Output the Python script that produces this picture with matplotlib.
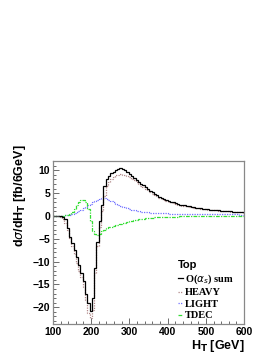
import matplotlib
matplotlib.use('Agg')
import matplotlib.pyplot as plt
import numpy as np
from matplotlib.ticker import MultipleLocator
from matplotlib.lines import Line2D

# -------------------------------
# Data: 6 GeV bins from 100 GeV
# -------------------------------
edges = np.arange(100, 610, 6)

sum_vals = [
    0, 0, 0, -0.05, -0.2, -0.6, -2.7, -4.6, -6.0, -7.5, -9.0, -10.8,
    -12.5, -14.2, -17.0, -19.0, -20.8, -18.0, -11.5, -5.8, -1.0, 2.3, 6.5, 8.0,
    8.7, 9.3, 9.7, 10.1, 10.35, 10.45, 10.3, 10.0, 9.6, 9.2, 8.8, 8.4,
    7.9, 7.5, 7.1, 6.7, 6.3, 5.9, 5.5, 5.15, 4.8, 4.5, 4.2, 3.95,
    3.7, 3.5, 3.3, 3.1, 2.95, 2.8, 2.65, 2.5, 2.4, 2.3, 2.2, 2.1,
    2.0, 1.9, 1.82, 1.74, 1.67, 1.6, 1.53, 1.47, 1.41, 1.35, 1.3, 1.25,
    1.2, 1.15, 1.1, 1.06, 1.02, 0.98, 0.94, 0.9, 0.87, 0.84, 0.81, 0.78,
]

heavy_vals = [
    0, 0, -0.05, -0.2, -0.6, -1.5, -3.1, -4.8, -6.6, -8.3, -10.3, -12.0,
    -13.3, -15.5, -18.5, -21.2, -22.4, -20.6, -12.5, -6.5, -2.5, 1.0, 4.3, 6.5,
    7.5, 8.2, 8.6, 8.9, 9.05, 9.1, 9.05, 8.9, 8.7, 8.45, 8.15, 7.8,
    7.4, 7.0, 6.65, 6.3, 5.95, 5.6, 5.25, 4.9, 4.6, 4.3, 4.0, 3.75,
    3.5, 3.3, 3.1, 2.95, 2.8, 2.65, 2.5, 2.38, 2.27, 2.17, 2.07, 1.98,
    1.9, 1.82, 1.74, 1.67, 1.6, 1.53, 1.47, 1.41, 1.35, 1.3, 1.25, 1.2,
    1.15, 1.1, 1.06, 1.02, 0.98, 0.94, 0.9, 0.87, 0.84, 0.81, 0.78, 0.75,
]

light_vals = [
    0, 0, 0, 0.02, 0.05, 0.1, 0.15, 0.25, 0.4, 0.6, 0.85, 1.1,
    1.4, 1.7, 2.0, 2.35, 2.7, 3.0, 3.3, 3.55, 3.75, 3.9, 3.9, 3.7,
    3.45, 3.2, 2.95, 2.7, 2.45, 2.25, 2.05, 1.85, 1.68, 1.52, 1.38, 1.25,
    1.14, 1.04, 0.96, 0.89, 0.83, 0.78, 0.74, 0.7, 0.67, 0.64, 0.61, 0.59,
    0.57, 0.55, 0.53, 0.52, 0.5, 0.49, 0.48, 0.47, 0.46, 0.45, 0.44, 0.43,
    0.42, 0.41, 0.4, 0.4, 0.39, 0.38, 0.38, 0.37, 0.37, 0.36, 0.36, 0.35,
    0.35, 0.34, 0.34, 0.34, 0.33, 0.33, 0.32, 0.32, 0.32, 0.31, 0.31, 0.3,
]

tdec_vals = [
    0, 0, 0, 0, 0.05, 0.1, 0.2, 0.4, 0.8, 1.5, 2.4, 3.0,
    3.5, 3.6, 3.0, 1.5, -1.0, -3.2, -4.0, -4.2, -3.9, -3.4, -3.0, -2.7,
    -2.5, -2.35, -2.2, -2.05, -1.9, -1.75, -1.6, -1.45, -1.3, -1.15, -1.0, -0.9,
    -0.8, -0.72, -0.65, -0.58, -0.52, -0.47, -0.42, -0.38, -0.34, -0.31, -0.28, -0.25,
    -0.23, -0.21, -0.19, -0.17, -0.15, -0.14, -0.13, -0.12, -0.11, -0.1, -0.09, -0.08,
    -0.07, -0.07, -0.06, -0.06, -0.05, -0.05, -0.04, -0.04, -0.04, -0.03, -0.03, -0.03,
    -0.02, -0.02, -0.02, -0.02, -0.01, -0.01, -0.01, -0.01, 0, 0, 0, 0,
]

labels = [r'O($\alpha_s$) sum', 'HEAVY', 'LIGHT', 'TDEC']
colors = ['black', '#b08888', '#7070ff', '#33dd33']
styles = ['-', (0, (1, 1)), (0, (1, 1)), (0, (3, 1, 1, 1))]

# -------------------------------
# Figure
# -------------------------------
fig = plt.figure(figsize=(2.74, 3.55), dpi=100)
ax = fig.add_axes([0.193, 0.087, 0.698, 0.459])

series = [sum_vals, heavy_vals, light_vals, tdec_vals]
# draw the components first, the sum on top
for i in [1, 2, 3, 0]:
    ax.stairs(series[i], edges, color=colors[i], lw=0.9, ls=styles[i])

ax.set_xlim(100, 600)
ax.set_ylim(-23.7, 12.0)

ax.xaxis.set_major_locator(MultipleLocator(100))
ax.xaxis.set_minor_locator(MultipleLocator(20))
ax.yaxis.set_major_locator(MultipleLocator(5))
ax.yaxis.set_minor_locator(MultipleLocator(1))
ax.tick_params(which='both', direction='in', top=False, right=False,
               color='#555555', width=0.6)
ax.tick_params(which='major', length=4, labelsize=7.5, pad=2)
ax.tick_params(which='minor', length=2)
for lab in ax.get_xticklabels() + ax.get_yticklabels():
    lab.set_fontfamily('Liberation Sans')
    lab.set_fontweight('bold')

for s in ax.spines.values():
    s.set_color('#888888')
    s.set_linewidth(0.9)

# Axis titles (ROOT style: aligned to the far end)
ax.set_xlabel(r'H$_\mathbf{T}$ [GeV]', fontsize=9, fontweight='bold',
              family='Liberation Sans', loc='right', labelpad=1)
fig.text(20 / 274, 1 - 196 / 355, r'd$\sigma$/dH$_\mathbf{T}$ [fb/6GeV]', rotation=90,
         fontsize=9, fontweight='bold', family='Liberation Sans',
         ha='center', va='center')

proxy = [Line2D([], [], color=c, ls=st, lw=0.9) for c, st in zip(colors, styles)]
leg = ax.legend(proxy, labels, title='Top', loc='upper left',
                bbox_to_anchor=(0.63, 0.42), frameon=False, handlelength=0.5,
                handletextpad=0.25, labelspacing=0.22, borderaxespad=0,
                prop={'family': 'Liberation Serif', 'weight': 'bold', 'size': 7.5},
                title_fontproperties={'family': 'Liberation Sans', 'weight': 'bold', 'size': 8})
leg._legend_box.align = 'left'

fig.savefig('out.png', dpi=100)
